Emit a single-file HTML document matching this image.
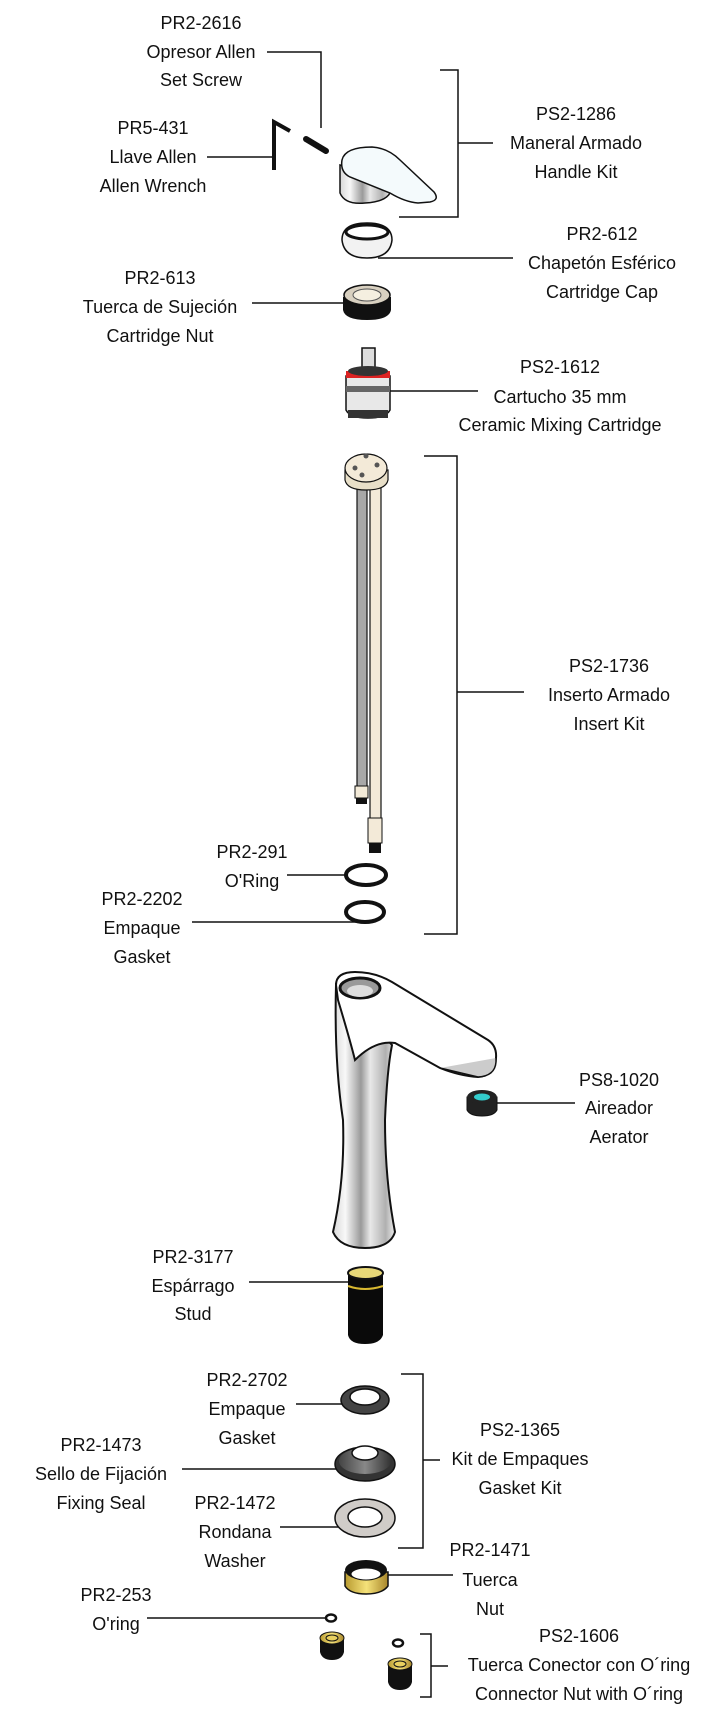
<!DOCTYPE html>
<html><head><meta charset="utf-8"><style>
html,body{margin:0;padding:0;background:#fff;}
svg{display:block;}
text{font-family:"Liberation Sans",Arial,sans-serif;font-size:18px;fill:#111;text-anchor:middle;}
</style></head><body>
<svg width="728" height="1714" viewBox="0 0 728 1714" xmlns="http://www.w3.org/2000/svg">
<defs>
<linearGradient id="chrome" x1="0" x2="1" y1="0" y2="0">
<stop offset="0" stop-color="#d8d8d8"/><stop offset="0.2" stop-color="#f8f8f8"/><stop offset="0.45" stop-color="#9a9a9a"/><stop offset="0.6" stop-color="#e8e8e8"/><stop offset="0.85" stop-color="#b0b0b0"/><stop offset="1" stop-color="#eee"/>
</linearGradient>
<linearGradient id="gold" x1="0" x2="1"><stop offset="0" stop-color="#b89a30"/><stop offset="0.5" stop-color="#f5e27a"/><stop offset="1" stop-color="#a8862a"/></linearGradient>
<linearGradient id="grey" x1="0" x2="1"><stop offset="0" stop-color="#444"/><stop offset="0.5" stop-color="#888"/><stop offset="1" stop-color="#333"/></linearGradient>
</defs>
<g stroke="#111" stroke-width="1.5" fill="none">
<!-- PR2-2616 -->
<polyline points="267,52 321,52 321,128"/>
<!-- PR5-431 -->
<line x1="207" y1="157" x2="274" y2="157"/>
<!-- PS2-1286 bracket -->
<polyline points="440,70 458,70 458,217 399,217"/>
<line x1="458" y1="143" x2="493" y2="143"/>
<!-- PR2-612 -->
<line x1="378" y1="258" x2="513" y2="258"/>
<!-- PR2-613 -->
<line x1="252" y1="303" x2="345" y2="303"/>
<!-- PS2-1612 -->
<line x1="388" y1="391" x2="478" y2="391"/>
<!-- PS2-1736 bracket -->
<polyline points="424,456 457,456 457,934 424,934"/>
<line x1="457" y1="692" x2="524" y2="692"/>
<!-- PR2-291 -->
<line x1="287" y1="875" x2="346" y2="875"/>
<!-- PR2-2202 -->
<line x1="192" y1="922" x2="358" y2="922"/>
<!-- PS8-1020 -->
<line x1="497" y1="1103" x2="575" y2="1103"/>
<!-- PR2-3177 -->
<line x1="249" y1="1282" x2="350" y2="1282"/>
<!-- PR2-2702 -->
<line x1="296" y1="1404" x2="343" y2="1404"/>
<!-- PR2-1473 -->
<line x1="182" y1="1469" x2="338" y2="1469"/>
<!-- PR2-1472 -->
<line x1="280" y1="1527" x2="340" y2="1527"/>
<!-- PS2-1365 bracket -->
<polyline points="401,1374 423,1374 423,1548 398,1548"/>
<line x1="423" y1="1460" x2="440" y2="1460"/>
<!-- PR2-1471 -->
<line x1="386" y1="1575" x2="453" y2="1575"/>
<!-- PR2-253 -->
<line x1="147" y1="1618" x2="326" y2="1618"/>
<!-- PS2-1606 bracket -->
<polyline points="420,1634 431,1634 431,1697 420,1697"/>
<line x1="431" y1="1666" x2="448" y2="1666"/>
</g>

<!-- Allen wrench & screw -->
<polyline points="274,170 274,122 290,131" fill="none" stroke="#111" stroke-width="4"/>
<line x1="306" y1="139" x2="326" y2="151" stroke="#111" stroke-width="6" stroke-linecap="round"/>

<!-- Handle -->
<path d="M340,165 L340,193 Q345,205 365,203 Q385,202 390,193 L390,178 Z" fill="url(#chrome)" stroke="#111" stroke-width="1.5"/>
<path d="M342,160 Q345,147 372,147 Q388,148 400,160 L434,192 Q440,200 430,202 L418,203 Q405,202 390,193 L350,177 Q340,172 342,160 Z" fill="#f4fafc" stroke="#111" stroke-width="1.5"/>

<!-- Cap -->
<path d="M342,240 Q342,223 367,223 Q392,223 392,240 Q390,258 367,258 Q344,258 342,240 Z" fill="#f2f2f2" stroke="#111" stroke-width="1.5"/>
<ellipse cx="367" cy="232" rx="21" ry="7" fill="#fff" stroke="#111" stroke-width="3"/>

<!-- Cartridge nut -->
<path d="M343,297 L343,310 Q345,320 367,320 Q389,320 391,310 L391,297 Z" fill="#111"/>
<ellipse cx="367" cy="295" rx="23" ry="10" fill="#d8d0c0" stroke="#111" stroke-width="1.5"/>
<ellipse cx="367" cy="295" rx="14" ry="6" fill="#f5efe0" stroke="#555" stroke-width="1"/>

<!-- Cartridge -->
<rect x="362" y="348" width="13" height="20" fill="#ddd" stroke="#111" stroke-width="1.5"/>
<path d="M346,376 L346,410 Q350,418 368,418 Q386,418 390,410 L390,376 Z" fill="#e8e8e8" stroke="#111" stroke-width="1.5"/>
<rect x="346" y="371" width="44" height="7" fill="#d22"/>
<ellipse cx="368" cy="371" rx="20" ry="5" fill="#333"/>
<rect x="346" y="386" width="44" height="6" fill="#666"/>
<rect x="348" y="410" width="40" height="8" fill="#333"/>

<!-- Insert kit -->
<rect x="357" y="488" width="10" height="305" fill="#a8a8a8" stroke="#111" stroke-width="1.2"/>
<rect x="370" y="488" width="11" height="335" fill="#f3ead8" stroke="#111" stroke-width="1.2"/>
<rect x="355" y="786" width="13" height="12" fill="#f3ead8" stroke="#111"/>
<rect x="356" y="798" width="11" height="6" fill="#111"/>
<rect x="368" y="818" width="14" height="25" fill="#f3ead8" stroke="#111"/>
<rect x="369" y="843" width="12" height="10" fill="#111"/>
<path d="M345,470 L345,480 Q347,490 366,490 Q386,490 388,480 L388,470 Z" fill="#e8dfc8" stroke="#111" stroke-width="1.2"/>
<ellipse cx="366" cy="468" rx="21" ry="14" fill="#f3ead8" stroke="#111" stroke-width="1.2"/>
<circle cx="366" cy="456" r="2.5" fill="#555"/><circle cx="355" cy="468" r="2.5" fill="#555"/><circle cx="377" cy="465" r="2.5" fill="#555"/><circle cx="362" cy="475" r="2.5" fill="#555"/>

<!-- O-rings -->
<ellipse cx="366" cy="875" rx="20" ry="10" fill="none" stroke="#111" stroke-width="4"/>
<ellipse cx="365" cy="912" rx="19" ry="10" fill="none" stroke="#111" stroke-width="4"/>

<!-- Faucet -->
<path d="M336,985 Q334,1060 343,1120 Q345,1180 333,1232 Q340,1248 365,1248 Q390,1248 395,1232 Q385,1180 385,1120 Q387,1070 392,1045 Z" fill="url(#chrome)" stroke="#111" stroke-width="2"/>
<path d="M336,985 Q336,972 355,972 Q375,972 392,982 L488,1040 Q497,1046 496,1058 Q495,1076 478,1077 Q460,1076 440,1068 L395,1043 Q375,1040 355,1060 Q350,1040 338,1000 Z" fill="#fff" stroke="#111" stroke-width="2"/>
<path d="M440,1068 L478,1077 Q495,1076 496,1062 L496,1058" fill="#ccc" stroke="#111" stroke-width="1.5"/>
<ellipse cx="360" cy="988" rx="20" ry="10" fill="#999" stroke="#111" stroke-width="3"/>
<ellipse cx="360" cy="991" rx="13" ry="6" fill="#ddd"/>

<!-- Aerator -->
<path d="M467,1097 L467,1110 Q470,1116 482,1116 Q494,1116 497,1110 L497,1097 Z" fill="#222" stroke="#111"/>
<ellipse cx="482" cy="1097" rx="15" ry="7" fill="#222"/>
<ellipse cx="482" cy="1097" rx="8" ry="3.5" fill="#3cc"/>

<!-- Stud -->
<path d="M348,1273 L348,1335 Q350,1344 365,1344 Q380,1344 383,1335 L383,1273 Z" fill="#0a0a0a"/>
<ellipse cx="365.5" cy="1273" rx="17.5" ry="6" fill="#e8d878" stroke="#111" stroke-width="2"/>
<path d="M348,1286 Q365,1292 383,1286" stroke="#d8b830" stroke-width="2" fill="none"/>

<!-- Gasket 2702 -->
<ellipse cx="365" cy="1400" rx="24" ry="14" fill="#444" stroke="#111" stroke-width="1.5"/>
<ellipse cx="365" cy="1397" rx="15" ry="8" fill="#fff" stroke="#111" stroke-width="1.5"/>
<!-- Fixing seal -->
<ellipse cx="365" cy="1464" rx="30" ry="17" fill="#333" stroke="#111" stroke-width="1.5"/>
<ellipse cx="365" cy="1461" rx="26" ry="13" fill="url(#grey)"/>
<ellipse cx="365" cy="1453" rx="13" ry="7" fill="#fff" stroke="#111" stroke-width="1.5"/>
<!-- Washer -->
<ellipse cx="365" cy="1518" rx="30" ry="19" fill="#d0ccc8" stroke="#111" stroke-width="1.5"/>
<ellipse cx="365" cy="1517" rx="17" ry="10" fill="#fff" stroke="#111" stroke-width="1.5"/>
<!-- Nut -->
<path d="M345,1572 L345,1586 Q350,1594 366,1594 Q382,1594 388,1586 L388,1572 Z" fill="url(#gold)" stroke="#111" stroke-width="1.5"/>
<ellipse cx="366" cy="1570" rx="21" ry="10" fill="#111"/>
<ellipse cx="366" cy="1574" rx="15" ry="6" fill="#fff" stroke="#111"/>
<!-- PR2-253 -->
<ellipse cx="331" cy="1618" rx="5" ry="3.5" fill="none" stroke="#111" stroke-width="2.5"/>
<path d="M320,1638 L320,1652 Q322,1660 332,1660 Q342,1660 344,1652 L344,1638 Z" fill="#111"/>
<ellipse cx="332" cy="1638" rx="12" ry="6" fill="url(#gold)" stroke="#111"/>
<ellipse cx="332" cy="1638" rx="6" ry="3" fill="#e8d060" stroke="#111"/>
<!-- PS2-1606 -->
<ellipse cx="398" cy="1643" rx="5" ry="3.5" fill="none" stroke="#111" stroke-width="2.5"/>
<path d="M388,1664 L388,1682 Q390,1690 400,1690 Q410,1690 412,1682 L412,1664 Z" fill="#111"/>
<ellipse cx="400" cy="1664" rx="12" ry="6" fill="url(#gold)" stroke="#111"/>
<ellipse cx="400" cy="1664" rx="6" ry="3" fill="#e8d060" stroke="#111"/>

<!-- Labels -->
<text x="201" y="29">PR2-2616</text><text x="201" y="58">Opresor Allen</text><text x="201" y="86">Set Screw</text>
<text x="153" y="134">PR5-431</text><text x="153" y="163">Llave Allen</text><text x="153" y="192">Allen Wrench</text>
<text x="576" y="120">PS2-1286</text><text x="576" y="149">Maneral Armado</text><text x="576" y="178">Handle Kit</text>
<text x="602" y="240">PR2-612</text><text x="602" y="269">Chapetón Esférico</text><text x="602" y="298">Cartridge Cap</text>
<text x="160" y="284">PR2-613</text><text x="160" y="313">Tuerca de Sujeción</text><text x="160" y="342">Cartridge Nut</text>
<text x="560" y="373">PS2-1612</text><text x="560" y="403">Cartucho 35 mm</text><text x="560" y="431">Ceramic Mixing Cartridge</text>
<text x="609" y="672">PS2-1736</text><text x="609" y="701">Inserto Armado</text><text x="609" y="730">Insert Kit</text>
<text x="252" y="858">PR2-291</text><text x="252" y="887">O'Ring</text>
<text x="142" y="905">PR2-2202</text><text x="142" y="934">Empaque</text><text x="142" y="963">Gasket</text>
<text x="619" y="1086">PS8-1020</text><text x="619" y="1114">Aireador</text><text x="619" y="1143">Aerator</text>
<text x="193" y="1263">PR2-3177</text><text x="193" y="1292">Espárrago</text><text x="193" y="1320">Stud</text>
<text x="247" y="1386">PR2-2702</text><text x="247" y="1415">Empaque</text><text x="247" y="1444">Gasket</text>
<text x="101" y="1451">PR2-1473</text><text x="101" y="1480">Sello de Fijación</text><text x="101" y="1509">Fixing Seal</text>
<text x="235" y="1509">PR2-1472</text><text x="235" y="1538">Rondana</text><text x="235" y="1567">Washer</text>
<text x="520" y="1436">PS2-1365</text><text x="520" y="1465">Kit de Empaques</text><text x="520" y="1494">Gasket Kit</text>
<text x="490" y="1556">PR2-1471</text><text x="490" y="1586">Tuerca</text><text x="490" y="1615">Nut</text>
<text x="116" y="1601">PR2-253</text><text x="116" y="1630">O'ring</text>
<text x="579" y="1642">PS2-1606</text><text x="579" y="1671">Tuerca Conector con O´ring</text><text x="579" y="1700">Connector Nut with O´ring</text>
</svg>
</body></html>
